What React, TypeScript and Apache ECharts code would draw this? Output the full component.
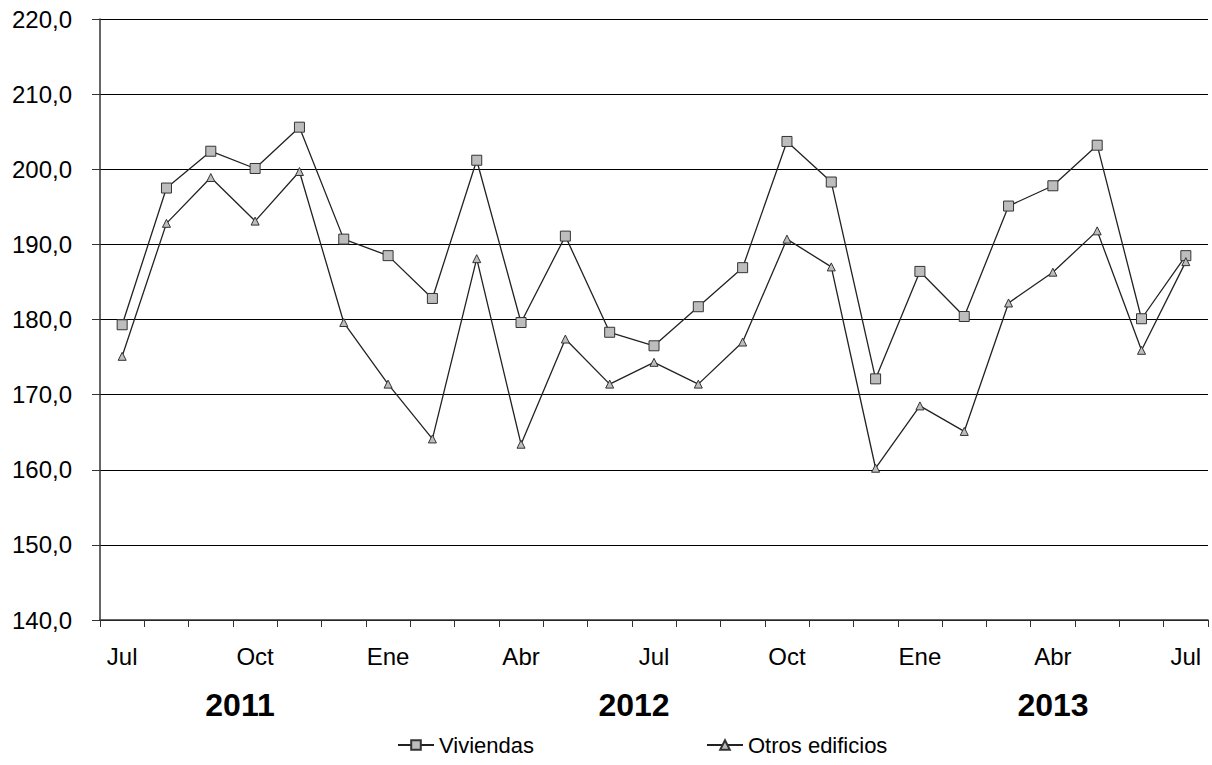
import React, { useEffect, useRef } from "react";
import * as echarts from "echarts";

const months = ["Jul","Ago","Sep","Oct","Nov","Dic","Ene","Feb","Mar","Abr","May","Jun","Jul","Ago","Sep","Oct","Nov","Dic","Ene","Feb","Mar","Abr","May","Jun","Jul"];
const shownLabels = [0, 3, 6, 9, 12, 15, 18, 21, 24];
const viviendas = [179.3,197.5,202.4,200.1,205.6,190.7,188.5,182.8,201.2,179.6,191.1,178.3,176.5,181.7,186.9,203.7,198.3,172.1,186.4,180.4,195.1,197.8,203.2,180.1,188.5];
const otros = [175.1,192.8,198.9,193.1,199.7,179.6,171.4,164.1,188.1,163.4,177.4,171.4,174.3,171.4,177.0,190.7,187.0,160.2,168.5,165.1,182.2,186.3,191.8,175.9,187.7];
const years = [{ t: "2011", x: 240 }, { t: "2012", x: 634 }, { t: "2013", x: 1053 }];

export default function App() {
  const ref = useRef<HTMLDivElement>(null);
  useEffect(() => {
    const c = echarts.init(ref.current!, null, { renderer: "svg" });
    const font = "Liberation Sans, Arial, sans-serif";
    c.setOption({
      animation: false,
      textStyle: { fontFamily: font },
      grid: { left: 100, right: 4, top: 19, bottom: 145 },
      xAxis: {
        type: "category", data: months, boundaryGap: true,
        axisLine: { lineStyle: { color: "#333", width: 1.5 } },
        axisTick: { show: true, interval: 0, length: 7, lineStyle: { color: "#333" } },
        axisLabel: { interval: (i: number) => shownLabels.includes(i), color: "#000", fontSize: 24, margin: 24, fontFamily: font },
      },
      yAxis: {
        type: "value", min: 140, max: 220, interval: 10,
        axisLine: { show: true, lineStyle: { color: "#333", width: 1.5 } },
        axisTick: { show: true, length: 8, lineStyle: { color: "#333" } },
        splitLine: { lineStyle: { color: "#000", width: 1 } },
        axisLabel: { color: "#000", fontSize: 24, margin: 28, fontFamily: font, formatter: (v: number) => v.toFixed(1).replace(".", ",") },
      },
      legend: {
        bottom: 4, left: 392, itemGap: 172, itemWidth: 36, itemHeight: 12,
        textStyle: { fontSize: 22, color: "#000", fontFamily: font },
        data: ["Viviendas", "Otros edificios"],
      },
      series: [
        { name: "Viviendas", type: "line", data: viviendas, symbol: "rect", symbolSize: 10,
          lineStyle: { color: "#222", width: 1.3 },
          itemStyle: { color: "#bdbdbd", borderColor: "#333", borderWidth: 1 } },
        { name: "Otros edificios", type: "line", data: otros, symbol: "triangle", symbolSize: 8,
          lineStyle: { color: "#222", width: 1.3 },
          itemStyle: { color: "#bdbdbd", borderColor: "#333", borderWidth: 1 } },
      ],
      graphic: years.map((y) => ({
        type: "text", x: y.x, y: 705, style: { text: y.t, font: `bold 32px ${font}`, fill: "#000", textAlign: "center", textVerticalAlign: "middle" },
      })),
    });
    return () => c.dispose();
  }, []);
  return <div ref={ref} style={{ position: "fixed", left: 0, top: 0, width: 1212, height: 765, background: "#fff" }} />;
}
